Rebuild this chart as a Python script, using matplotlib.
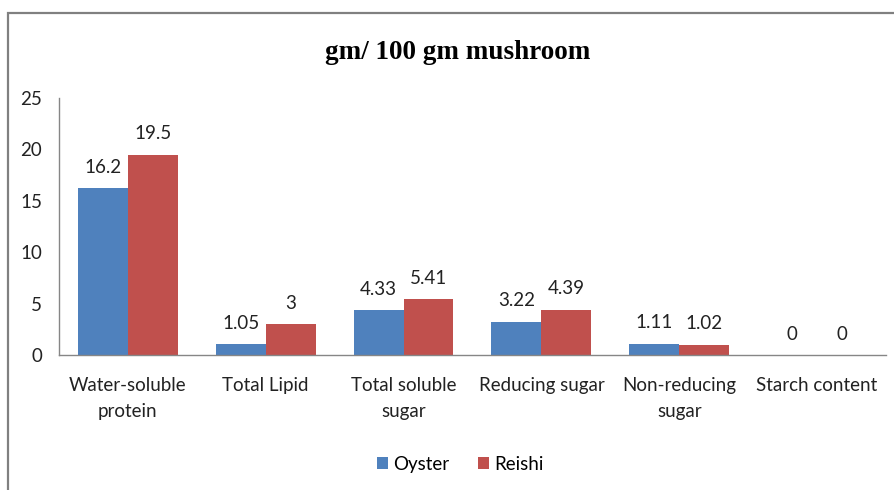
import matplotlib.pyplot as plt
import numpy as np
from matplotlib.patches import Rectangle

categories = ["Water-soluble\nprotein", "Total Lipid", "Total soluble\nsugar",
              "Reducing sugar", "Non-reducing\nsugar", "Starch content"]
oyster = [16.2, 1.05, 4.33, 3.22, 1.11, 0]
reishi = [19.5, 3, 5.41, 4.39, 1.02, 0]
oyster_labels = ["16.2", "1.05", "4.33", "3.22", "1.11", "0"]
reishi_labels = ["19.5", "3", "5.41", "4.39", "1.02", "0"]

BLUE = "#4F81BD"
RED = "#C0504D"
GRAY = "#868686"
FS = 13.5

plt.rcParams['font.family'] = ['Lato', 'DejaVu Sans']

fig = plt.figure(figsize=(8.94, 4.9), dpi=100)
ax = fig.add_axes([0.066, 0.2755, 0.925, 0.5245])

# Outer chart frame (cut off at right and bottom like the source)
fig.patches.append(Rectangle((8 / 894, -0.1), 1.2, 1.1 - 13 / 490, transform=fig.transFigure,
                             fill=False, edgecolor="#808080", linewidth=1.6))

x = np.arange(len(categories))
w = 0.362
b1 = ax.bar(x - w / 2, oyster, w, color=BLUE, label="Oyster")
b2 = ax.bar(x + w / 2, reishi, w, color=RED, label="Reishi")

for bars, labels in ((b1, oyster_labels), (b2, reishi_labels)):
    for bar, lab in zip(bars, labels):
        ax.annotate(lab, (bar.get_x() + bar.get_width() / 2, bar.get_height()),
                    xytext=(0, 9), textcoords="offset points",
                    ha="center", va="bottom", fontsize=FS, color="#222222")

ax.set_xlim(-0.5, len(categories) - 0.5)
ax.set_ylim(0, 25)
ax.set_yticks(range(0, 26, 5))
ax.set_xticks(x)
ax.set_xticklabels(categories, fontsize=FS, color="#222222", linespacing=1.65)
ax.tick_params(axis="y", labelsize=FS, colors="#222222", length=0, pad=12)
ax.tick_params(axis="x", length=0, pad=16)

for s in ("top", "right"):
    ax.spines[s].set_visible(False)
for s in ("left", "bottom"):
    ax.spines[s].set_color(GRAY)
    ax.spines[s].set_linewidth(1.0)

fig.text(0.512, 0.893, "gm/ 100 gm mushroom", ha="center", va="center",
         fontsize=19.5, fontweight="bold", family="Liberation Serif")

fig.legend(handles=[b1, b2], loc="center", bbox_to_anchor=(0.515, 0.052), ncol=2,
           frameon=False, fontsize=FS, handlelength=0.6, handleheight=0.6,
           handletextpad=0.3, columnspacing=1.5)

fig.savefig("out.png", dpi=100)
